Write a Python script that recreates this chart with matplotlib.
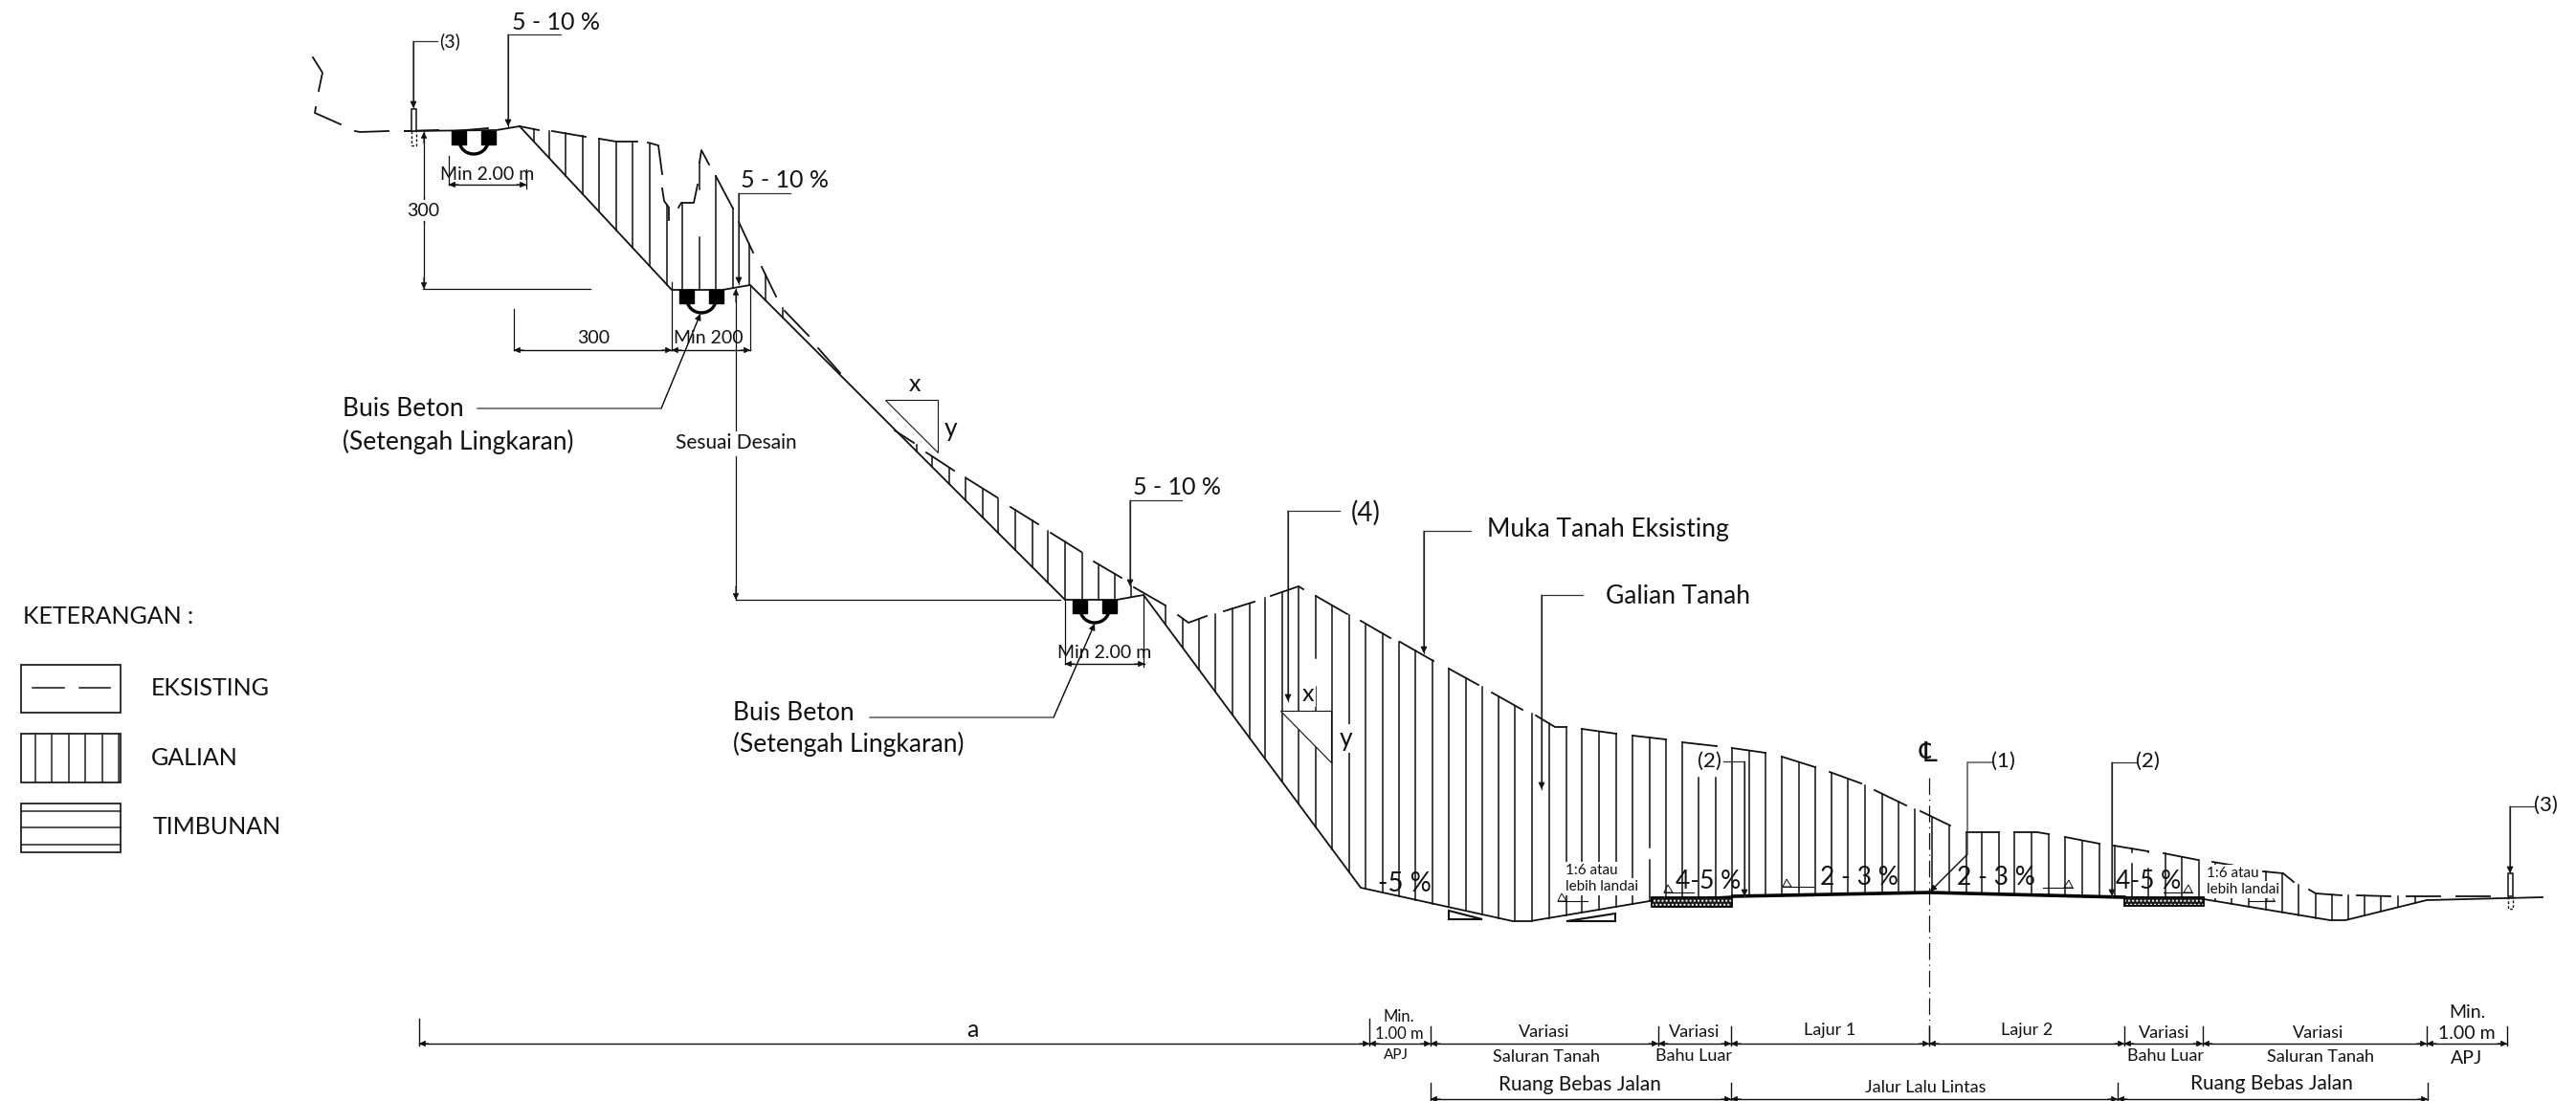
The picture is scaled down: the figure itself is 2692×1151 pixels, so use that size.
"""Typical road cross section on a cut slope, drawn on a pixel-sized axes."""

import matplotlib

matplotlib.use("Agg")
import matplotlib.pyplot as plt
import numpy as np
from matplotlib.patches import Polygon, Rectangle

# design profile, left to right
profile_x = [423, 519, 543, 702, 755, 784, 1113, 1167, 1195, 1422, 1581, 1599, 1724, 1811, 2016, 2220, 2303, 2435, 2451, 2536, 2657]
profile_y = [137, 136, 132, 303, 303, 298, 627, 627, 622, 928, 963, 963, 942, 937, 933, 938, 940, 962, 962, 941, 938]

road_x = [1811, 2016, 2220]
road_y = [937, 933, 938]

# existing ground, broken line pieces
ground_pieces = [
    [(327, 60), (337, 76), (333, 95)],
    [(330, 112), (329, 118), (356, 130)],
    [(371, 137), (376, 138), (406, 137)],
    [(423, 137), (458, 136)],
    [(474, 137), (510, 134)],
    [(543, 132), (563, 136)],
    [(577, 137), (612, 143)],
    [(626, 145), (644, 148), (666, 148)],
    [(677, 149), (688, 152), (692, 182)],
    [(692, 197), (694, 210), (699, 217), (699, 230)],
    [(709, 217), (712, 212), (725, 212), (729, 193)],
    [(731, 170), (733, 157), (741, 172)],
    [(748, 184), (766, 218)],
    [(772, 232), (787, 264)],
    [(796, 279), (811, 310)],
    [(820, 325), (845, 351)],
    [(855, 364), (878, 390)],
    [(935, 450), (955, 463)],
    [(968, 473), (997, 492)],
    [(1010, 500), (1042, 520)],
    [(1056, 530), (1085, 548)],
    [(1098, 557), (1130, 577)],
    [(1143, 587), (1172, 604)],
    [(1185, 614), (1218, 633)],
    [(1231, 643), (1242, 651), (1261, 644)],
    [(1279, 639), (1311, 629)],
    [(1328, 623), (1357, 613), (1362, 616)],
    [(1375, 623), (1408, 642)],
    [(1422, 649), (1453, 667)],
    [(1463, 671), (1498, 691)],
    [(1514, 699), (1545, 716)],
    [(1559, 724), (1591, 742)],
    [(1605, 748), (1625, 760), (1637, 760)],
    [(1653, 762), (1689, 767)],
    [(1706, 769), (1741, 773)],
    [(1758, 776), (1794, 780)],
    [(1810, 782), (1845, 787)],
    [(1862, 791), (1897, 802)],
    [(1912, 807), (1945, 819)],
    [(1959, 826), (1992, 842)],
    [(2007, 848), (2038, 863)],
    [(2055, 870), (2089, 870)],
    [(2105, 870), (2129, 870), (2141, 872)],
    [(2158, 875), (2194, 882)],
    [(2209, 884), (2245, 890)],
    [(2261, 892), (2297, 899)],
    [(2312, 901), (2348, 907)],
    [(2365, 911), (2386, 913), (2397, 922)],
    [(2413, 930), (2420, 934), (2447, 936)],
    [(2463, 936), (2498, 937)],
    [(2515, 937), (2550, 937)],
    [(2567, 937), (2602, 937)],
]

# hatch stations of the cut
hatch_x = [
    558, 574, 591, 609, 626, 644, 661, 679, 697, 713, 731, 748, 766, 783, 800, 818,
    958, 974, 992, 1009, 1027, 1043, 1061, 1079, 1095, 1113, 1131, 1148, 1165, 1182, 1218,
    1236, 1253, 1270, 1288, 1306, 1322, 1340, 1357, 1375, 1392, 1410, 1427, 1445, 1462, 1479, 1497,
    1514, 1532, 1549, 1566, 1583, 1601, 1619, 1637, 1653, 1671, 1689, 1706, 1724, 1741, 1758, 1775,
    1793, 1810, 1828, 1845, 1862, 1880, 1897, 1914, 1931, 1949, 1967, 1984, 2001, 2019, 2037, 2055,
    2071, 2089, 2105, 2123, 2141, 2158, 2176, 2194, 2210, 2228, 2245, 2263, 2280, 2298, 2315, 2332,
    2350, 2368, 2385, 2402, 2420, 2437, 2454, 2471, 2488, 2506, 2524,
]

# white breaks in hatch lines: x, from y, to y
hatch_gaps = [
    (731, 200, 245), (1724, 888, 896), (1775, 780, 810), (1793, 780, 810),
    (2228, 893, 900), (2245, 893, 905), (1375, 690, 715),
]

# dimension ticks along the bottom
bottom_ticks_x = [438, 1431, 1495, 1733, 1809, 2016, 2220, 2302, 2536, 2620]
bottom_ticks_top = [1065, 1065, 1073, 1073, 1073, 1073, 1073, 1073, 1073, 1073]
row2_ticks_x = [1495, 1809, 2213, 2537]

# (text, x, y, size, ha)
labels = [
    ("5 - 10 %", 581, 23, 18, "center"),
    ("(3)", 470, 43, 14, "center"),
    ("Min 2.00 m", 509, 182, 14, "center"),
    ("5 - 10 %", 820, 188, 18, "center"),
    ("Min 200", 740, 353, 14, "center"),
    ("Buis Beton", 358, 427, 19, "left"),
    ("(Setengah Lingkaran)", 358, 462, 19, "left"),
    ("x", 956, 401, 18, "center"),
    ("y", 994, 448, 19, "center"),
    ("5 - 10 %", 1230, 509, 18, "center"),
    ("(4)", 1427, 536, 20, "center"),
    ("Muka Tanah Eksisting", 1554, 553, 19, "left"),
    ("Galian Tanah", 1678, 623, 19, "left"),
    ("Min 2.00 m", 1154, 682, 14, "center"),
    ("Buis Beton", 766, 745, 19, "left"),
    ("(Setengah Lingkaran)", 766, 778, 19, "left"),
    ("-5 %", 1468, 924, 20, "center"),
    ("4-5 %", 1785, 921, 19, "center"),
    ("2 - 3 %", 1943, 917, 19, "center"),
    ("2 - 3 %", 2086, 917, 19, "center"),
    ("4-5 %", 2245, 921, 19, "center"),
    ("(1)", 2093, 796, 16, "center"),
    ("(2)", 2244, 796, 16, "center"),
    ("(3)", 2660, 842, 16, "center"),
    ("a", 1016, 1077, 18, "center"),
    ("Min.", 1462, 1063, 12, "center"),
    ("1.00 m", 1462, 1081, 12, "center"),
    ("APJ", 1459, 1103, 11, "center"),
    ("Variasi", 1614, 1079, 13, "center"),
    ("Saluran Tanah", 1616, 1105, 13, "center"),
    ("Variasi", 1771, 1079, 13, "center"),
    ("Bahu Luar", 1770, 1104, 13, "center"),
    ("Lajur 1", 1912, 1077, 13, "center"),
    ("Lajur 2", 2118, 1077, 13, "center"),
    ("Variasi", 2262, 1080, 13, "center"),
    ("Bahu Luar", 2263, 1104, 13, "center"),
    ("Variasi", 2423, 1080, 13, "center"),
    ("Saluran Tanah", 2425, 1105, 13, "center"),
    ("Min.", 2578, 1058, 14, "center"),
    ("1.00 m", 2578, 1081, 14, "center"),
    ("APJ", 2578, 1106, 14, "center"),
    ("Ruang Bebas Jalan", 1651, 1134, 15, "center"),
    ("Jalur Lalu Lintas", 2012, 1137, 13, "center"),
    ("Ruang Bebas Jalan", 2374, 1133, 15, "center"),
    ("KETERANGAN :", 24, 644, 18, "left"),
    ("EKSISTING", 158, 719, 18, "left"),
    ("GALIAN", 158, 792, 18, "left"),
    ("TIMBUNAN", 160, 864, 18, "left"),
]

# labels that knock out the hatch behind them
masked_labels = [
    ("300", 442, 220, 14, "center"),
    ("300", 620, 353, 14, "center"),
    ("Sesuai Desain", 769, 463, 15, "center"),
    ("x", 1367, 725, 18, "center"),
    ("y", 1407, 772, 19, "center"),
    ("(2)", 1786, 796, 16, "center"),
    ("1:6 atau", 1636, 910, 11, "left"),
    ("lebih landai", 1636, 927, 11, "left"),
    ("1:6 atau", 2306, 913, 11, "left"),
    ("lebih landai", 2306, 930, 11, "left"),
]

# leader polylines ending in an arrow head
arrow_leaders = [
    [(457, 43), (432, 43), (432, 113)],
    [(586, 36), (531, 36), (531, 132)],
    [(826, 202), (772, 202), (772, 297)],
    [(499, 427), (691, 427), (732, 328)],
    [(909, 750), (1101, 750), (1144, 652)],
    [(1235, 523), (1181, 523), (1181, 613)],
    [(1400, 534), (1346, 534), (1346, 733)],
    [(1537, 555), (1488, 555), (1488, 683)],
    [(1654, 622), (1611, 622), (1611, 825)],
    [(1801, 796), (1823, 796), (1823, 937)],
    [(2082, 797), (2056, 797), (2056, 893), (2017, 932)],
    [(2233, 797), (2207, 797), (2207, 937)],
    [(2649, 843), (2623, 843), (2623, 913)],
]

# double ended dimension lines
dimensions = [
    [(469, 193), (550, 193)],
    [(537, 366), (702, 366)],
    [(702, 366), (784, 366)],
    [(1113, 694), (1196, 694)],
    [(438, 1091), (1431, 1091)],
    [(1431, 1091), (1495, 1091)],
    [(1495, 1091), (1733, 1091)],
    [(1733, 1091), (1809, 1091)],
    [(1809, 1091), (2016, 1091)],
    [(2016, 1091), (2220, 1091)],
    [(2220, 1091), (2302, 1091)],
    [(2302, 1091), (2536, 1091)],
    [(2536, 1091), (2620, 1091)],
    [(1495, 1149), (1809, 1149)],
    [(1809, 1149), (2213, 1149)],
    [(2213, 1149), (2537, 1149)],
]

# plain thin lines
thin_lines = [
    [(443, 234), (443, 138)],
    [(443, 206), (443, 302)],
    [(442, 302), (617, 302)],
    [(469, 163), (469, 193)],
    [(550, 177), (550, 197)],
    [(537, 323), (537, 366)],
    [(702, 295), (702, 366)],
    [(784, 298), (784, 366)],
    [(769, 302), (769, 450)],
    [(769, 477), (769, 627)],
    [(769, 627), (1108, 627)],
    [(1113, 627), (1113, 694)],
    [(1195, 622), (1195, 697)],
]

slope_arrows = [
    (1863, 1895, 927, -1), (1739, 1770, 933, -1), (1628, 1659, 942, -1),
    (2135, 2166, 928, 1), (2261, 2291, 933, 1), (2350, 2377, 942, 1),
]

# ditch: centre x, top y, bottom y
ditches = [(495, 137, 161), (733, 303, 327), (1144, 627, 651)]

# shoulder stone blocks: left, right, top, bottom
shoulders = [(1726, 1810, 938, 948), (2220, 2303, 938, 947)]

# concrete posts: x, top, ground y, bottom
posts = [(432, 114, 137, 152), (2623, 913, 937, 950)]

legend_hatch_x = [37, 54, 72, 89, 107, 124]
legend_fill_y = [848, 865, 883]

plt.rcParams["font.family"] = ["Lato", "DejaVu Sans"]
plt.rcParams["hatch.linewidth"] = 1.0
INK = "#111111"

fig = plt.figure(figsize=(26.92, 11.51), dpi=100)
ax = fig.add_axes([0, 0, 1, 1])
ax.set_xlim(0, 2692)
ax.set_ylim(1151, 0)
ax.axis("off")

# hatch between ground and profile
ground_all = sorted(p for piece in ground_pieces[3:] for p in piece)
ground_x = [p[0] for p in ground_all]
ground_y = [p[1] for p in ground_all]
for x in hatch_x:
    top = np.interp(x, ground_x, ground_y)
    bottom = np.interp(x, profile_x, profile_y)
    if top < bottom:
        ax.plot([x, x], [top, bottom], color=INK, lw=1.1, zorder=2)
for x, y0, y1 in hatch_gaps:
    ax.plot([x, x], [y0, y1], color="white", lw=2.5, zorder=3)

# slope triangles (white inside, they cut the hatch)
ax.add_patch(Polygon([(925, 418), (980, 418), (980, 473)], fc="white", ec=INK, lw=0.8, zorder=4))
ax.add_patch(Polygon([(1338, 743), (1391, 743), (1391, 797)], fc="white", ec=INK, lw=0.8, zorder=4))

for piece in ground_pieces:
    ax.plot(*zip(*piece), color=INK, lw=1.3, zorder=5)
ax.plot(profile_x, profile_y, color=INK, lw=1.3, zorder=5)
ax.plot(road_x, road_y, color="black", lw=2.6, zorder=6)

# ditches with half round pipe
theta = np.linspace(0, np.pi, 40)
for cx, top, bottom in ditches:
    ax.add_patch(Rectangle((cx - 23, top), 15, 14, fc="black", ec="black", zorder=6))
    ax.add_patch(Rectangle((cx + 8, top), 15, 14, fc="black", ec="black", zorder=6))
    ax.plot(cx + 15 * np.cos(theta), bottom - 14 + 14 * np.sin(theta), color="black", lw=2.4, zorder=6)

for left, right, top, bottom in shoulders:
    ax.add_patch(Rectangle((left, top), right - left, bottom - top, fc="#1a1a1a", ec="white",
                           hatch="....", lw=0, zorder=6))
    ax.add_patch(Rectangle((left, top), right - left, bottom - top, fill=False, ec="black", lw=1.3, zorder=6))

for x, top, ground, bottom in posts:
    ax.add_patch(Rectangle((x - 2.5, top), 5, ground - top, fc="white", ec=INK, lw=1.1, zorder=6))
    ax.plot([x - 2.5, x - 2.5, x + 2.5, x + 2.5], [ground, bottom, bottom, ground],
            color=INK, lw=1.0, ls=(0, (2, 1.5)), zorder=6)

# small slope ratio marks under the ditch
ax.add_patch(Polygon([(1514, 952), (1514, 961), (1549, 961)], fill=False, ec=INK, lw=1.5))
ax.add_patch(Polygon([(1637, 963), (1688, 955), (1688, 963)], fill=False, ec=INK, lw=1.5))

# centre line
ax.plot([2016, 2016], [813, 1092], color=INK, lw=0.9, ls=(0, (14, 4, 1, 4)), zorder=3)
ax.text(2015, 788, "\u2104", fontsize=21, ha="center", va="center", color=INK, zorder=7)

for line in thin_lines:
    ax.plot(*zip(*line), color=INK, lw=0.9, zorder=4)

for leader in arrow_leaders:
    ax.plot(*zip(*leader), color="#333333", lw=0.9, zorder=7)
    ax.annotate("", xy=leader[-1], xytext=leader[-2],
                arrowprops=dict(arrowstyle="-|>", color=INK, lw=0.8, mutation_scale=10,
                                shrinkA=0, shrinkB=0), zorder=7)

for a, b in dimensions:
    ax.plot([a[0], b[0]], [a[1], b[1]], color=INK, lw=1.0, zorder=4)
    for tip, tail in ((a, b), (b, a)):
        ax.annotate("", xy=tip, xytext=(tip[0] + np.sign(tail[0] - tip[0]) * 10, tip[1]),
                    arrowprops=dict(arrowstyle="-|>", color=INK, lw=0.8, mutation_scale=9,
                                    shrinkA=0, shrinkB=0), zorder=5)
for tip, tail in (((443, 138), (443, 150)), ((443, 302), (443, 290)),
                  ((769, 302), (769, 316)), ((769, 627), (769, 613))):
    ax.annotate("", xy=tip, xytext=tail,
                arrowprops=dict(arrowstyle="-|>", color=INK, lw=0.8, mutation_scale=9,
                                shrinkA=0, shrinkB=0))

for x, top in zip(bottom_ticks_x, bottom_ticks_top):
    ax.plot([x, x], [top, 1093], color=INK, lw=1.0)
for x in row2_ticks_x:
    ax.plot([x, x], [1132, 1150], color=INK, lw=1.0)

# slope direction arrows with a small triangle on the head
for x0, x1, y, side in slope_arrows:
    ax.plot([x0, x1], [y, y], color=INK, lw=0.8, zorder=7)
    tip = x0 if side < 0 else x1
    ax.add_patch(Polygon([(tip, y), (tip - side * 9, y), (tip - side * 4, y - 8)], fill=False,
                         ec=INK, lw=0.7, zorder=7))

# legend
for top, bottom in ((695, 745), (767, 818), (840, 891)):
    ax.add_patch(Rectangle((22, top), 104, bottom - top, fill=False, ec="#222222", lw=1.3))
ax.plot([34, 67], [719, 719], color=INK, lw=1.1)
ax.plot([83, 115], [719, 719], color=INK, lw=1.1)
for x in legend_hatch_x:
    ax.plot([x, x], [767, 818], color="#222222", lw=1.1)
for y in legend_fill_y:
    ax.plot([22, 126], [y, y], color="#222222", lw=1.1)

for text, x, y, size, ha in labels:
    ax.text(x, y, text, fontsize=size, ha=ha, va="center", color=INK, zorder=8)
for text, x, y, size, ha in masked_labels:
    ax.text(x, y, text, fontsize=size, ha=ha, va="center", color=INK, zorder=8,
            bbox=dict(fc="white", ec="none", pad=1.5))

fig.savefig("out.png", dpi=100)
plt.close(fig)
